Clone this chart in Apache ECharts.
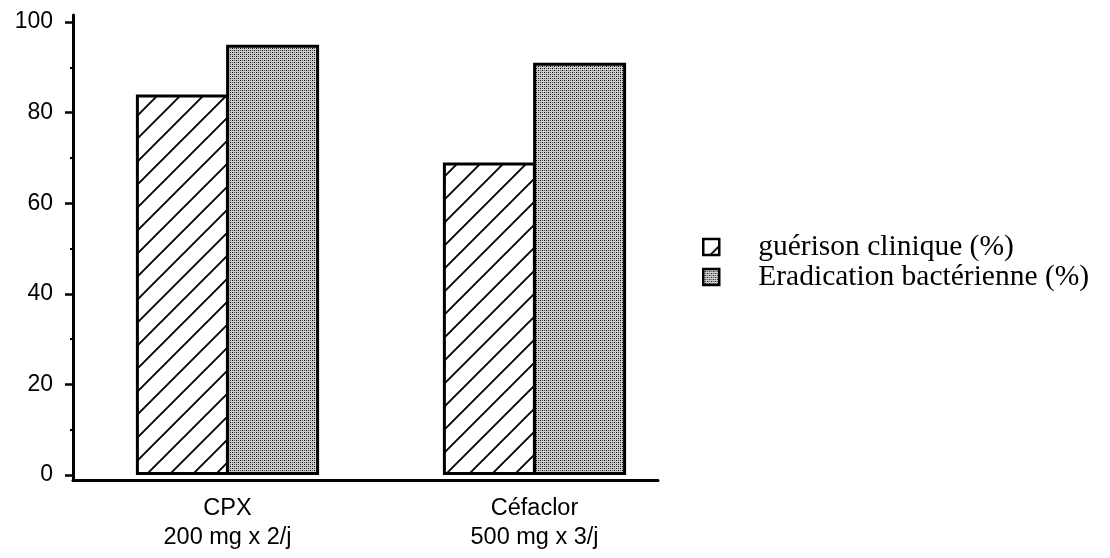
<!DOCTYPE html>
<html>
<head>
<meta charset="utf-8">
<script src="https://cdn.jsdelivr.net/npm/echarts@6/dist/echarts.min.js"></script>
<style>
html,body{margin:0;padding:0;background:#fff;}
#chart{width:1110px;height:558px;}
</style>
</head>
<body>
<div id="chart"></div>
<script>
var categories = ['CPX\n200 mg x 2/j', 'Céfaclor\n500 mg x 3/j'];
var seriesNames = ['guérison clinique (%)', 'Eradication bactérienne (%)'];
var guerison = [84, 69];
var eradication = [95, 91];
var yTicks = [0, 20, 40, 60, 80, 100];

function hatchPattern() {
  var s = 23, c = document.createElement('canvas');
  c.width = s; c.height = s;
  var g = c.getContext('2d');
  g.fillStyle = '#fff'; g.fillRect(0, 0, s, s);
  g.strokeStyle = '#000'; g.lineWidth = 1.9;
  g.beginPath();
  g.moveTo(-2, s + 2); g.lineTo(s + 2, -2);
  g.moveTo(-2, 2); g.lineTo(2, -2);
  g.moveTo(s - 2, s + 2); g.lineTo(s + 2, s - 2);
  g.stroke();
  return c;
}
function dotPattern() {
  var s = 4, c = document.createElement('canvas');
  c.width = s; c.height = s;
  var g = c.getContext('2d');
  g.fillStyle = '#cccccc'; g.fillRect(0, 0, s, s);
  g.fillStyle = '#000';
  g.fillRect(0, 0, 1, 1); g.fillRect(2, 2, 1, 1);
  g.fillStyle = '#5e5e5e';
  g.fillRect(2, 0, 1, 1); g.fillRect(0, 2, 1, 1);
  return c;
}

var chart = echarts.init(document.getElementById('chart'), null, {renderer: 'canvas'});
var sansFont = '"Liberation Sans", Arial, Helvetica, sans-serif';
var serifFont = '"Liberation Serif", "Times New Roman", Times, serif';

chart.setOption({
  animation: false,
  backgroundColor: '#fff',
  grid: [
    {left: 74, right: 422, top: 22, bottom: 83},
    {left: 73, right: 452, top: 15, bottom: 78}
  ],
  legend: {
    orient: 'vertical',
    left: 697,
    top: 227,
    itemWidth: 16,
    itemHeight: 16,
    itemGap: 0,
    icon: 'rect',
    selectedMode: false,
    data: seriesNames,
    itemStyle: {borderColor: '#000', borderWidth: 2.5},
    textStyle: {fontFamily: serifFont, fontSize: 29.5, color: '#000', lineHeight: 30, padding: [0, 0, 0, 34]}
  },
  xAxis: [
    {
      type: 'category', gridIndex: 0, data: categories,
      axisLine: {show: false}, axisTick: {show: false},
      axisLabel: {margin: 19, fontFamily: sansFont, fontSize: 23.5, color: '#000', lineHeight: 29, interval: 0}
    },
    {
      type: 'value', gridIndex: 1, min: 0, max: 1,
      axisLine: {show: true, lineStyle: {color: '#000', width: 3}},
      axisTick: {show: false}, axisLabel: {show: false}, splitLine: {show: false}
    }
  ],
  yAxis: [
    {
      type: 'value', gridIndex: 0, min: yTicks[0], max: yTicks[yTicks.length - 1], interval: 20,
      axisLine: {show: false},
      axisTick: {show: true, length: 9, lineStyle: {color: '#000', width: 2.5}},
      minorTick: {show: true, splitNumber: 2, length: 4, lineStyle: {color: '#000', width: 2}},
      splitLine: {show: false},
      axisLabel: {margin: 21, fontFamily: sansFont, fontSize: 23, color: '#000'}
    },
    {
      type: 'value', gridIndex: 1, min: 0, max: 1,
      axisLine: {show: true, lineStyle: {color: '#000', width: 3}},
      axisTick: {show: false}, axisLabel: {show: false}, splitLine: {show: false}
    }
  ],
  series: [
    {
      name: seriesNames[0], type: 'bar', xAxisIndex: 0, yAxisIndex: 0,
      data: guerison, barWidth: 93, barGap: '-3%',
      itemStyle: {color: {image: hatchPattern(), repeat: 'repeat'}, borderColor: '#000', borderWidth: 3}
    },
    {
      name: seriesNames[1], type: 'bar', xAxisIndex: 0, yAxisIndex: 0,
      data: eradication, barWidth: 93, barGap: '-3%',
      itemStyle: {color: {image: dotPattern(), repeat: 'repeat'}, borderColor: '#000', borderWidth: 3}
    }
  ]
});
</script>
</body>
</html>
